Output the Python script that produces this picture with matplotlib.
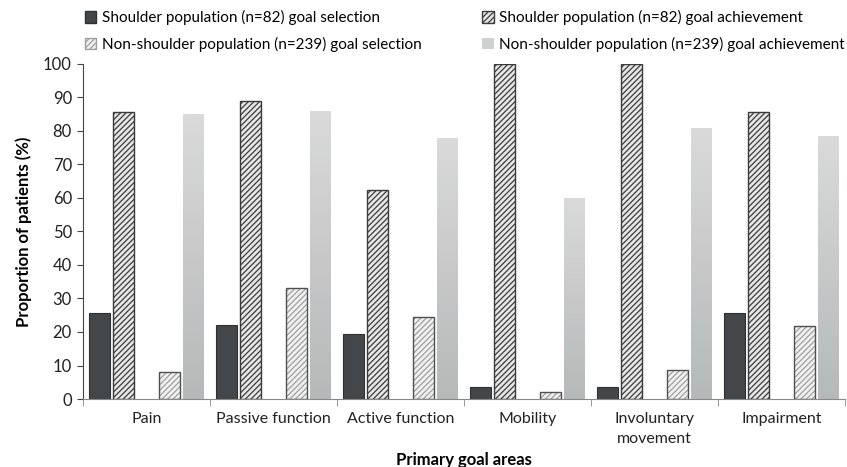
import numpy as np
from matplotlib import pyplot as plt
from matplotlib.patches import Patch
from matplotlib.colors import LinearSegmentedColormap

# values (% of patients)
categories = ["Pain", "Passive function", "Active function", "Mobility",
              "Involuntary\nmovement", "Impairment"]
shoulder_sel = [25.6, 22.0, 19.5, 3.7, 3.7, 25.6]
shoulder_ach = [85.7, 88.9, 62.5, 100, 100, 85.7]
non_shoulder_sel = [8.2, 33.0, 24.6, 2.0, 8.8, 21.8]
non_shoulder_ach = [85.0, 86.0, 78.0, 60.0, 81.0, 78.6]

labels = ["Shoulder population (n=82) goal selection",
          "Shoulder population (n=82) goal achievement",
          "Non-shoulder population (n=239) goal selection",
          "Non-shoulder population (n=239) goal achievement"]

plt.rcParams['font.family'] = ['Lato', 'DejaVu Sans']
plt.rcParams['hatch.linewidth'] = 0.9

fig = plt.figure(figsize=(8.47, 4.67), dpi=100)
ax = fig.add_axes([0.098, 0.1456, 0.8996, 0.7174])

x = np.arange(len(categories))
w = 0.165
step = 0.1835
edge = "#3a3a3a"

# shoulder selection - solid dark
ax.bar(x - 2 * step, shoulder_sel, w, color="#43474a", edgecolor="#2e3133", linewidth=0.8)

# shoulder achievement - dark hatch
plt.rcParams['hatch.color'] = "#3c3c3c"
ax.bar(x - step, shoulder_ach, w, color="#e6e6e6", edgecolor="#3c3c3c",
       hatch="//////", linewidth=0)
ax.bar(x - step, shoulder_ach, w, fill=False, edgecolor=edge, linewidth=1.0)

# non-shoulder selection - light hatch
ax.bar(x + step, non_shoulder_sel, w, color="#f0f0f0", edgecolor="#a0a0a0",
       hatch="//////", linewidth=0)
ax.bar(x + step, non_shoulder_sel, w, fill=False, edgecolor="#505050", linewidth=1.0)

# non-shoulder achievement - gradient gray
ach_bars = ax.bar(x + 2 * step, non_shoulder_ach, w, color="none", linewidth=0)
grad = np.linspace(0, 1, 256).reshape(-1, 1)
cmap = LinearSegmentedColormap.from_list("g", ["#b5b9b9", "#dadada"])
for b in ach_bars:
    bx, by = b.get_x(), b.get_y()
    bw, bh = b.get_width(), b.get_height()
    im = ax.imshow(grad, cmap=cmap, aspect="auto", origin="lower",
                   extent=[bx, bx + bw, by, by + bh], zorder=2)
    im.set_clip_path(b)

ax.set_xlim(-0.5, len(categories) - 0.5)
ax.set_ylim(0, 100)
ax.set_yticks(np.arange(0, 101, 10))
ax.set_xticks(x)
ax.set_xticklabels(categories, fontsize=11.5, color="#222222", linespacing=1.6)
ax.set_xticks(np.arange(-0.5, len(categories)), minor=True)
ax.tick_params(axis="x", which="major", length=0, pad=9)
ax.tick_params(axis="x", which="minor", length=5, color="#888888", direction="out")
ax.tick_params(axis="y", length=4, color="#444444", labelsize=12, labelcolor="#222222", pad=4)

for s in ["top", "right"]:
    ax.spines[s].set_visible(False)
ax.spines["left"].set_color("#444444")
ax.spines["bottom"].set_color("#888888")

ax.set_ylabel("Proportion of patients (%)", fontsize=12, fontweight="bold", labelpad=8)
ax.set_xlabel("Primary goal areas", fontsize=12, fontweight="bold", labelpad=4)

handles = [
    Patch(facecolor="#43474a", edgecolor="#2e3133"),
    Patch(facecolor="#e6e6e6", edgecolor="#3c3c3c", hatch="//////"),
    Patch(facecolor="#f0f0f0", edgecolor="#a0a0a0", hatch="//////"),
    Patch(facecolor="#d0d2d2", edgecolor="none"),
]
order = [0, 2, 1, 3]
fig.legend([handles[i] for i in order], [labels[i] for i in order],
           loc="upper left", bbox_to_anchor=(0.1, 0.978), ncol=2,
           frameon=False, fontsize=11, handlelength=0.75, handleheight=0.75,
           handletextpad=0.35, columnspacing=4.0, labelspacing=0.75,
           borderpad=0, borderaxespad=0)

fig.savefig("out.png", dpi=100)
